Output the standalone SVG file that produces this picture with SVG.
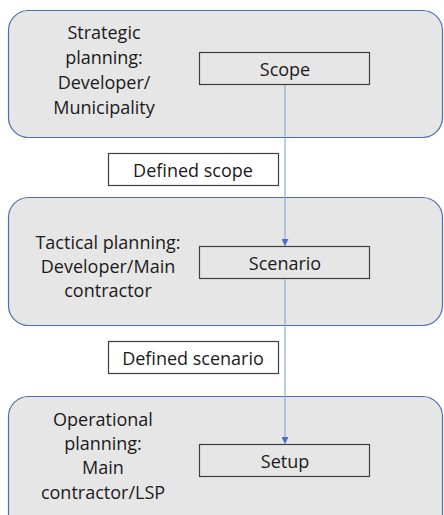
<svg xmlns="http://www.w3.org/2000/svg" width="444" height="515" viewBox="0 0 444 515">
  <style>
    .panel { fill: #e7e6e6; stroke: #4a6fb0; stroke-width: 1.2; }
    .box { fill: #e7e6e6; stroke: #3f3f3f; stroke-width: 1.2; }
    .label { fill: #ffffff; stroke: #3f3f3f; stroke-width: 1.2; }
    text { font-family: "Open Sans", "Noto Sans", sans-serif; font-size: 18px; fill: #1a1a1a; text-anchor: middle; }
    .flow { stroke: #8eaadb; stroke-width: 1.2; fill: none; marker-end: url(#tip); }
  </style>
  <defs>
    <marker id="tip" viewBox="0 0 10 10" refX="10" refY="5" markerWidth="7" markerHeight="7" markerUnits="userSpaceOnUse" orient="auto">
      <path d="M0,0 L10,5 L0,10 Z" fill="#4472c4"/>
    </marker>
  </defs>

  <!-- Strategic level -->
  <g id="strategic">
    <rect class="panel" x="8.5" y="10.5" width="434" height="127" rx="20"/>
    <text x="104" y="39">Strategic</text>
    <text x="104" y="64">planning:</text>
    <text x="104" y="89">Developer/</text>
    <text x="104" y="114">Municipality</text>
  </g>
  <g id="scope">
    <rect class="box" x="199.5" y="52.5" width="170" height="32"/>
    <text x="285" y="76">Scope</text>
  </g>

  <g id="defined-scope">
    <rect class="label" x="108.5" y="153.5" width="170" height="32"/>
    <text x="193" y="177">Defined scope</text>
  </g>

  <!-- Tactical level -->
  <g id="tactical">
    <rect class="panel" x="8.5" y="197.5" width="434" height="128" rx="20"/>
    <text x="108" y="249">Tactical planning:</text>
    <text x="108" y="273">Developer/Main</text>
    <text x="108" y="297">contractor</text>
  </g>
  <g id="scenario">
    <rect class="box" x="199.5" y="246.5" width="170" height="32"/>
    <text x="285" y="270">Scenario</text>
  </g>

  <g id="defined-scenario">
    <rect class="label" x="108.5" y="341.5" width="170" height="32"/>
    <text x="193" y="365">Defined scenario</text>
  </g>

  <!-- Operational level -->
  <g id="operational">
    <rect class="panel" x="8.5" y="396.5" width="434" height="140" rx="20"/>
    <text x="103" y="426">Operational</text>
    <text x="103" y="450">planning:</text>
    <text x="103" y="474">Main</text>
    <text x="103" y="499">contractor/LSP</text>
  </g>
  <g id="setup">
    <rect class="box" x="199.5" y="444.5" width="170" height="32"/>
    <text x="285" y="468">Setup</text>
  </g>

  <g id="connectors">
    <line class="flow" x1="285" y1="85" x2="285" y2="246"/>
    <line class="flow" x1="285" y1="279" x2="285" y2="444"/>
  </g>
</svg>
